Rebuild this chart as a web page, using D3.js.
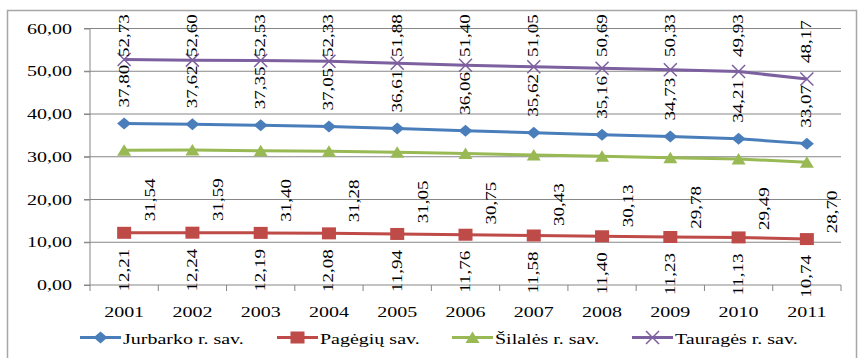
<!DOCTYPE html>
<html><head><meta charset="utf-8">
<script src="https://cdn.jsdelivr.net/npm/d3@7"></script>
<style>body{margin:0;background:#fff}svg{display:block}text{font-family:"Liberation Serif","Times New Roman",serif;fill:#000}</style>
</head><body>
<svg id="c" width="859" height="358"></svg>
<script>
const years = ["2001","2002","2003","2004","2005","2006","2007","2008","2009","2010","2011"];
const jurbarko = [37.80,37.62,37.35,37.05,36.61,36.06,35.62,35.16,34.73,34.21,33.07];
const pageigiu = [12.21,12.24,12.19,12.08,11.94,11.76,11.58,11.40,11.23,11.13,10.74];
const silales  = [31.54,31.59,31.40,31.28,31.05,30.75,30.43,30.13,29.78,29.49,28.70];
const taurages = [52.73,52.60,52.53,52.33,51.88,51.40,51.05,50.69,50.33,49.93,48.17];
const yTicks = [0,10,20,30,40,50,60];
const seriesNames = ["Jurbarko r. sav.","Pagėgių sav.","Šilalės r. sav.","Tauragės r. sav."];

const svg = d3.select("#c");
const SY = 0.72;
const x = d3.scaleBand().domain(years).range([90,841]);
const y = d3.scaleLinear().domain([0,60]).range([285,28.5]);
const cx = d => x(d) + x.bandwidth()/2;
const fmt = v => d3.format(".2f")(v).replace(".", ",");

// outer border
svg.append("rect").attr("x",7.5).attr("y",10.5).attr("width",849).attr("height",360)
  .attr("fill","none").attr("stroke","#a6a6a6").attr("stroke-width",1.5);

// gridlines
svg.append("g").selectAll("line").data(yTicks.filter(t=>t>0)).join("line")
  .attr("x1",84).attr("x2",841).attr("y1",d=>y(d)).attr("y2",d=>y(d))
  .attr("stroke","#868686").attr("stroke-width",1);

// y axis
const yAxis = d3.axisLeft(y).tickValues(yTicks).tickSize(6).tickFormat(()=> "");
const ga = svg.append("g").attr("transform","translate(90,0)").call(yAxis);
ga.selectAll("path,line").attr("stroke","#868686");
ga.select(".domain").attr("d","M-6,28.5H0V285H-6");
svg.append("g").selectAll("text").data(yTicks).join("text")
  .attr("text-anchor","end").attr("font-size",20)
  .attr("transform",d=>`translate(72,${y(d)}) scale(1,${SY})`).attr("dy","0.35em")
  .text(d=>fmt(d));

// x axis
svg.append("line").attr("x1",90).attr("x2",841).attr("y1",285).attr("y2",285).attr("stroke","#868686");
const bounds = years.map(d=>x(d)).concat([841]);
svg.append("g").selectAll("line").data(bounds).join("line")
  .attr("x1",d=>d).attr("x2",d=>d).attr("y1",285).attr("y2",291).attr("stroke","#868686");
svg.append("g").selectAll("text").data(years).join("text")
  .attr("text-anchor","middle").attr("font-size",20)
  .attr("transform",d=>`translate(${cx(d)},317) scale(1,${SY})`).text(d=>d);

const colors = ["#4a7ebb","#be4b48","#98b954","#7d60a0"];
const data = [jurbarko,pageigiu,silales,taurages];

function marker(g, k, px, py){
  const c = colors[k];
  if(k===0) g.append("path").attr("d",`M${px},${py-6}L${px+7},${py}L${px},${py+6}L${px-7},${py}Z`).attr("fill",c);
  if(k===1) g.append("rect").attr("x",px-7).attr("y",py-6).attr("width",14).attr("height",12).attr("fill",c);
  if(k===2) g.append("path").attr("d",`M${px},${py-6}L${px+7},${py+5.5}L${px-7},${py+5.5}Z`).attr("fill",c);
  if(k===3) g.append("path").attr("d",`M${px-6.5},${py-6.5}L${px+6.5},${py+6.5}M${px+6.5},${py-6.5}L${px-6.5},${py+6.5}`)
     .attr("stroke",c).attr("stroke-width",1.5).attr("fill","none");
}

const line = d3.line().x((v,i)=>cx(years[i])).y(v=>y(v));
data.forEach((arr,k)=>{
  const g = svg.append("g");
  g.append("path").attr("d",line(arr)).attr("fill","none").attr("stroke",colors[k]).attr("stroke-width",3);
  arr.forEach((v,i)=>marker(g,k,cx(years[i]),y(v)));
});

// data labels (rotated)
function rlabel(px, py, txt, anchor){
  svg.append("text").attr("font-size",19).attr("text-anchor",anchor).attr("dy","0.33em")
    .attr("transform",`translate(${px},${py}) rotate(-90) scale(1,${SY})`).text(txt);
}
jurbarko.forEach((v,i)=>rlabel(cx(years[i]), y(v)-16, fmt(v), "start"));
taurages.forEach((v,i)=>rlabel(cx(years[i]), Math.max(y(v)-16,57), fmt(v), "start"));
silales.forEach((v,i)=>rlabel(cx(years[i])+26, y(v)+71, fmt(v), "start"));
pageigiu.forEach((v,i)=>rlabel(cx(years[i]), y(v)+16, fmt(v), "end"));

// legend
const legX = [80,277,452,632];
seriesNames.forEach((n,k)=>{
  const g = svg.append("g");
  g.append("line").attr("x1",legX[k]).attr("x2",legX[k]+41).attr("y1",337.5).attr("y2",337.5)
    .attr("stroke",colors[k]).attr("stroke-width",3);
  marker(g,k,legX[k]+20.5,337.5);
  g.append("text").attr("font-size",20).attr("transform",`translate(${legX[k]+43},344) scale(1,${SY})`).text(n);
});
</script>
</body></html>
